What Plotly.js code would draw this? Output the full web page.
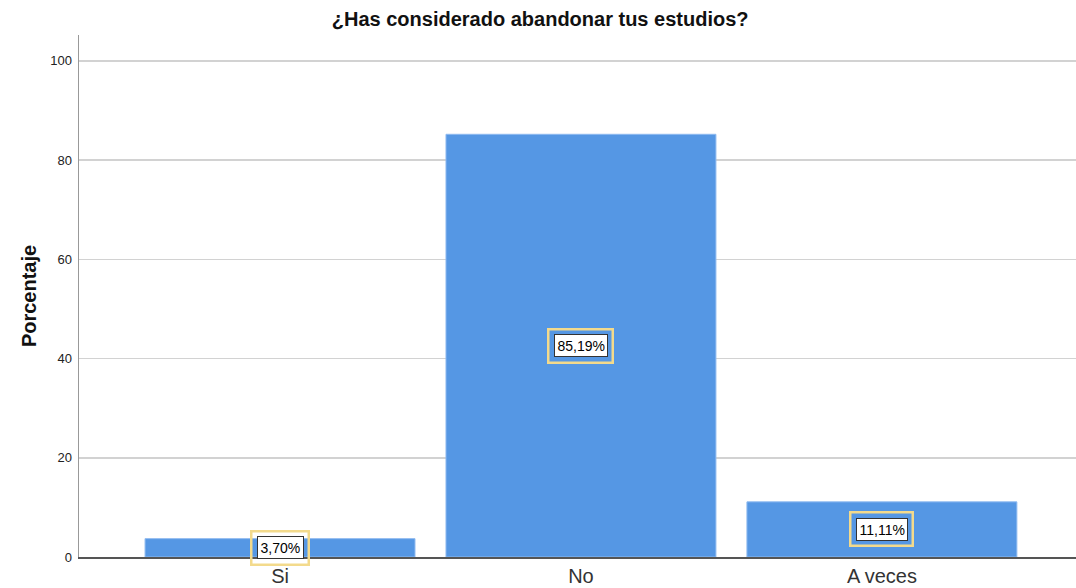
<!DOCTYPE html>
<html>
<head>
<meta charset="utf-8">
<script src="https://cdn.plot.ly/plotly-3.0.1.min.js"></script>
<style>html,body{margin:0;padding:0;background:#fff;}#chart{width:1076px;height:588px;}</style>
</head>
<body>
<div id="chart"></div>
<script>
const categories = ["Si", "No", "A veces"];
const percentages = [3.70, 85.19, 11.11];
const valueLabels = ["3,70%", "85,19%", "11,11%"];
const yTicks = [0, 20, 40, 60, 80, 100];

const trace = {
  type: "bar",
  x: categories,
  y: percentages,
  marker: {color: "#5597e4", line: {color: "#8fbaf0", width: 1}},
  hoverinfo: "none"
};

const annotations = [];
categories.forEach((c, i) => {
  annotations.push({
    x: c, y: percentages[i] / 2, xref: "x", yref: "y",
    text: valueLabels[i], showarrow: false,
    font: {family: "Liberation Sans, Arial", size: 14, color: "rgba(0,0,0,0)"},
    bgcolor: "rgba(0,0,0,0)", bordercolor: "#f3da8c", borderwidth: 2.5, borderpad: 7.5
  });
  annotations.push({
    x: c, y: percentages[i] / 2, xref: "x", yref: "y",
    text: valueLabels[i], showarrow: false,
    font: {family: "Liberation Sans, Arial", size: 14, color: "#000"},
    bgcolor: "#ffffff", bordercolor: "#333333", borderwidth: 1, borderpad: 2.5
  });
});

const layout = {
  width: 1076, height: 588,
  margin: {l: 79, r: 0, t: 35, b: 31},
  paper_bgcolor: "#ffffff", plot_bgcolor: "#ffffff",
  bargap: 0.103,
  showlegend: false,
  title: {text: "<b>¿Has considerado abandonar tus estudios?</b>", x: 0.502, xanchor: "center", y: 0.968, yanchor: "middle",
          font: {family: "Liberation Sans, Arial", size: 20, color: "#111"}},
  xaxis: {
    range: [-0.668, 2.645], showgrid: false, zeroline: false,
    showline: true, linecolor: "#555", linewidth: 1.5,
    ticks: "", tickfont: {family: "Liberation Sans, Arial", size: 20, color: "#333"},
    fixedrange: true
  },
  yaxis: {
    range: [0, 105.2], tickvals: yTicks, ticktext: yTicks.map(String),
    showgrid: true, gridcolor: "#d2d2d2", gridwidth: 1.5, zeroline: false,
    showline: true, linecolor: "#999", linewidth: 1.5,
    ticks: "outside", ticklen: 3, tickcolor: "rgba(0,0,0,0)",
    tickfont: {family: "Liberation Sans, Arial", size: 13, color: "#222"},
    title: {text: "<b>Porcentaje</b>", standoff: 8, font: {family: "Liberation Sans, Arial", size: 20, color: "#111"}},
    fixedrange: true
  },
  annotations: annotations
};

Plotly.newPlot("chart", [trace], layout, {displayModeBar: false, staticPlot: true});
</script>
</body>
</html>
